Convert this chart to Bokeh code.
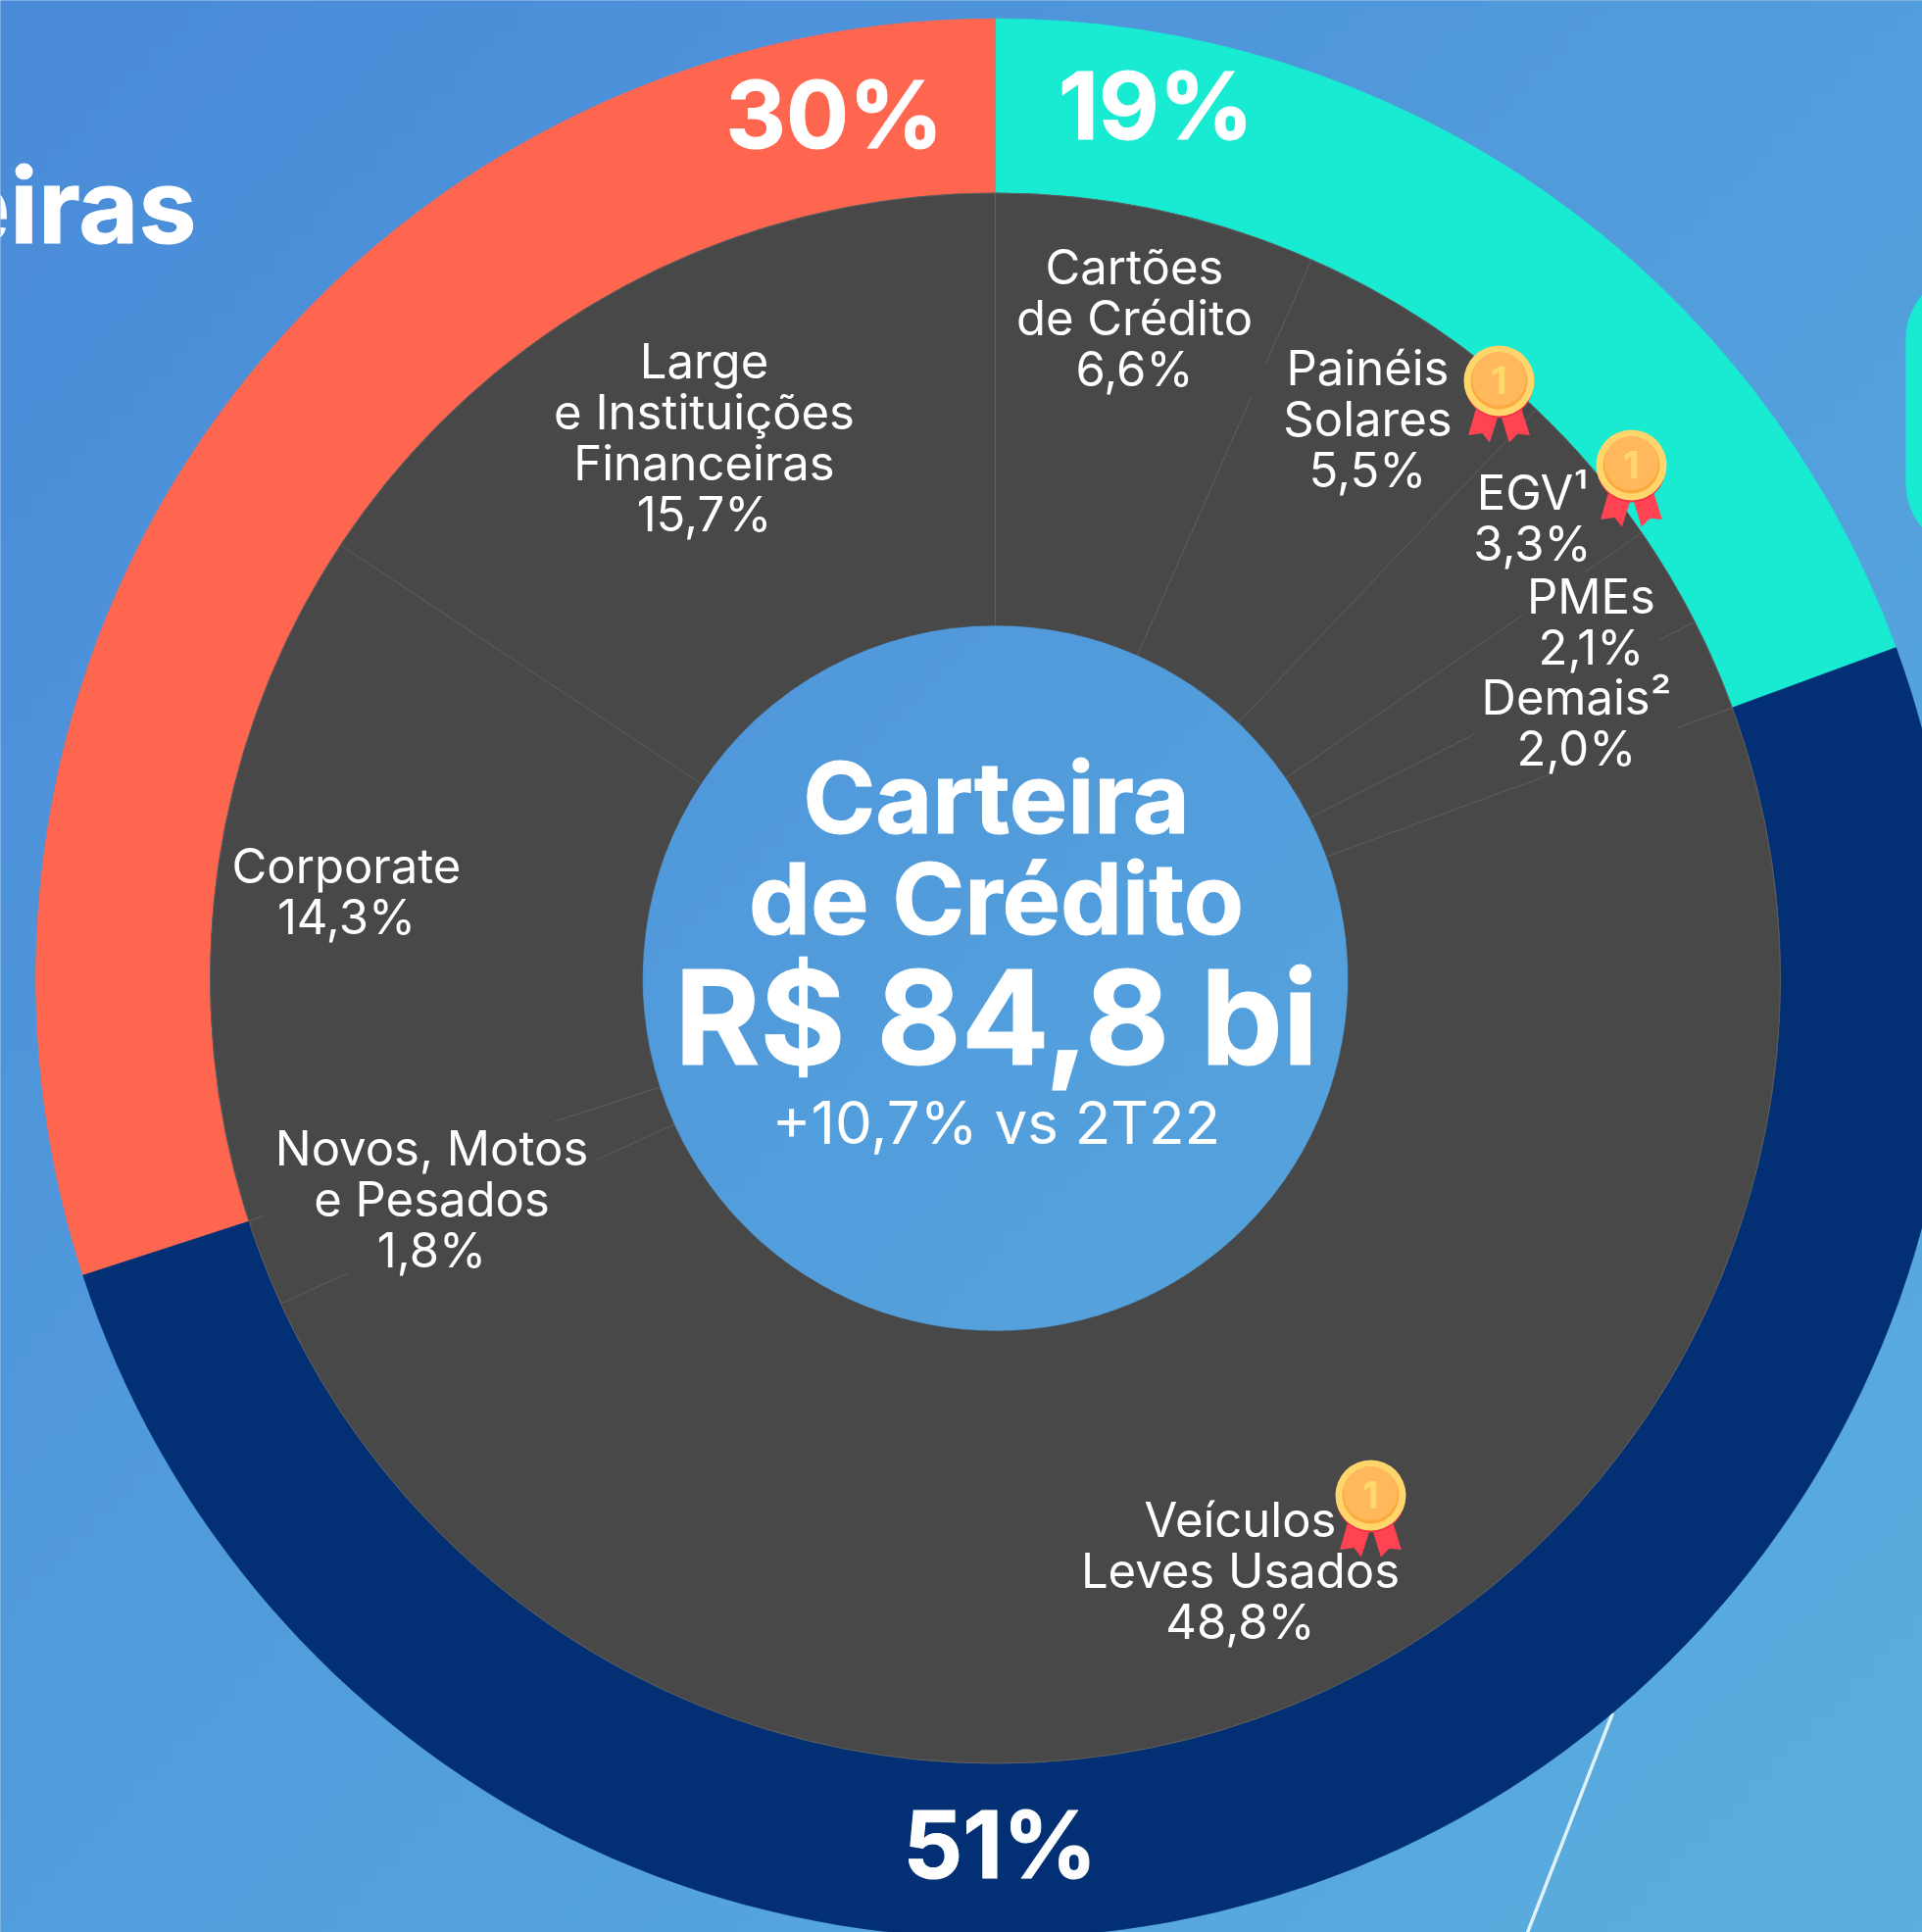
import math
import numpy as np
from bokeh.core.properties import value
from bokeh.embed import file_html
from bokeh.models import Range1d
from bokeh.plotting import figure
from bokeh.resources import INLINE

# ---- data ----
segments = ["Cartões de Crédito", "Painéis Solares", "EGV", "PMEs", "Demais",
            "Veículos Leves Usados", "Novos, Motos e Pesados", "Corporate",
            "Large e Instituições Financeiras"]
shares = [6.6, 5.5, 3.3, 2.1, 1.9, 48.8, 1.8, 14.3, 15.7]
groups = [[0, 1, 2, 3, 4], [5, 6], [7, 8]]
group_labels = ["19%", "51%", "30%"]
group_colors = ["#19EBD2", "#033075", "#FF6650"]
segment_labels = ["Cartões\nde Crédito\n6,6%", "Painéis\nSolares\n5,5%", "EGV¹\n3,3%", "PMEs\n2,1%",
                  "Demais²\n2,0%", "Veículos\nLeves Usados\n48,8%", "Novos, Motos\ne Pesados\n1,8%",
                  "Corporate\n14,3%", "Large\ne Instituições\nFinanceiras\n15,7%"]
label_x = [1157, 1395, 1563, 1623, 1608, 1265, 440, 353, 718]
label_y = [324, 427, 528, 634, 737, 1602, 1223, 909, 446]
group_label_x = [1179, 1020, 851]
group_label_y = [107, 1881, 116]
medal_x = [1529, 1664, 1398]
medal_y = [388, 474, 1525]
# radial stretch of each separator that the reference leaves blank around a label
gap_inner = [0, 650, 0, 653, 548, 601, 447, 473, 0]
gap_outer = [0, 685, 0, 731, 761, 741, 726, 785, 0]

W, H = 1961, 1971
CX, CY = 1015, 997.5
R_OUT, R_MID, R_IN = 979, 801, 360
DARK = "#484848"
SEP = "#5E5E5E"


def Y(v):
    return H - np.asarray(v, dtype=float)


p = figure(width=W, height=H, x_range=Range1d(0, W), y_range=Range1d(0, H),
           x_axis_type=None, y_axis_type=None, toolbar_location=None,
           output_backend="svg", min_border=0, outline_line_color=None,
           background_fill_color="#519CDB", border_fill_color="#519CDB")
p.grid.visible = False

# background gradient
n = 96
gx, gy = np.meshgrid(np.linspace(0, 1, n), np.linspace(0, 1, n))
t = (gx + (1 - gy)) / 2
img = np.zeros((n, n), dtype=np.uint32)
view = img.view(dtype=np.uint8).reshape((n, n, 4))
view[..., 0] = (74 + 17 * t).astype(np.uint8)
view[..., 1] = (139 + 36 * t).astype(np.uint8)
view[..., 2] = (217 + 6 * t).astype(np.uint8)
view[..., 3] = 255
p.image_rgba(image=[img], x=-10, y=-10, dw=W + 20, dh=H + 20)

# backdrop decoration
p.segment([1645], Y([1747]), [1558], Y([1971]), line_color="#DDF2FB", line_width=3.5)
p.circle([2012, 2012], Y([345, 493]), radius=68, fill_color="#19EBD2", line_color=None)
p.quad(left=[1944], right=[2040], top=Y([345]), bottom=Y([493]), fill_color="#19EBD2", line_color=None)

# rings
total = sum(shares)
cum = np.concatenate([[0], np.cumsum(shares)]) / total * 2 * math.pi
g_start = [cum[g[0]] for g in groups]
g_end = [cum[g[-1] + 1] for g in groups]
p.annular_wedge([CX] * 3, Y([CY] * 3), inner_radius=R_MID, outer_radius=R_OUT,
                start_angle=[math.pi / 2 - a for a in g_start], end_angle=[math.pi / 2 - a for a in g_end],
                direction="clock", fill_color=group_colors, line_color=group_colors, line_width=0.5)
p.annular_wedge([CX] * 9, Y([CY] * 9), inner_radius=R_IN, outer_radius=R_MID,
                start_angle=[math.pi / 2 - a for a in cum[:-1]], end_angle=[math.pi / 2 - a for a in cum[1:]],
                direction="clock", fill_color=DARK, line_color=DARK, line_width=0.5)
p.circle([CX], Y([CY]), radius=R_MID, fill_color=None, line_color=SEP, line_width=1)
ang = cum[:-1]
gi = np.array(gap_inner, dtype=float)
go = np.array(gap_outer, dtype=float)
has_gap = go > 0
r0 = np.full(9, float(R_IN))
r1 = np.where(has_gap, gi, float(R_MID))
p.segment(CX + r0 * np.sin(ang), Y(CY - r0 * np.cos(ang)),
          CX + r1 * np.sin(ang), Y(CY - r1 * np.cos(ang)), line_color=SEP, line_width=1)
a2 = ang[has_gap]
r2 = go[has_gap]
p.segment(CX + r2 * np.sin(a2), Y(CY - r2 * np.cos(a2)),
          CX + R_MID * np.sin(a2), Y(CY - R_MID * np.cos(a2)), line_color=SEP, line_width=1)

# segment labels
p.text(label_x, Y(label_y), text=segment_labels, text_font=value("Inter"), text_font_size="49px",
       text_color="white", text_align="center", text_baseline="middle", text_line_height=0.877)

# medals
for mx, my in zip(medal_x, medal_y):
    p.patch(mx + np.array([-23.7, -0.8, -9.6, -17.2, -31.4]), Y(my + np.array([28.7, 35.2, 63, 53.6, 55.5])),
            fill_color="#FF4352", line_color=None)
    p.patch(mx + np.array([1.9, 23, 31.4, 19, 10.3]), Y(my + np.array([35.2, 28.7, 55.5, 54.3, 63])),
            fill_color="#FF4352", line_color=None)
    p.circle([mx], Y([my + 3]), radius=35, fill_color="#EE3344", line_color=None)
    p.circle([mx], Y([my]), radius=36, fill_color="#FFD66B", line_color=None)
    p.circle([mx], Y([my]), radius=29, fill_color="#FDA93F", line_color=None)
    p.circle([mx], Y([my - 2]), radius=27.5, fill_color="#FFB95C", line_color=None)
    p.text([mx], Y([my - 1]), text=["1"], text_font=value("Inter"), text_font_style="bold",
           text_font_size="38px", text_color="#FFD96B", text_align="center", text_baseline="middle")

# ring percentages
p.text(group_label_x, Y(group_label_y), text=group_labels, text_font=value("Inter"), text_font_style="bold",
       text_font_size="95px", text_color="white", text_outline_color="white", text_align="center",
       text_baseline="middle")

# centre text (sizes in pt: 75pt = 100px)
p.text([1016, 1016], Y([813, 916]), text=["Carteira", "de Crédito"], text_font=value("Inter"),
       text_font_style="bold", text_font_size="75pt", text_color="white", text_outline_color="white",
       text_align="center", text_baseline="middle")
p.text([1016], Y([1037]), text=["R$ 84,8 bi"], text_font=value("Inter"), text_font_style="bold",
       text_font_size="99.75pt", text_color="white", text_outline_color="white", text_align="center",
       text_baseline="middle")
p.text([1016], Y([1144]), text=["+10,7% vs 2T22"], text_font=value("Inter"), text_font_size="60px",
       text_color="white", text_align="center", text_baseline="middle")
p.text([200], Y([209]), text=["eiras"], text_font=value("Inter"), text_font_style="bold",
       text_font_size="79pt", text_color="white", text_outline_color="white", text_align="right",
       text_baseline="alphabetic")

open("out.html", "w").write(file_html(p, INLINE))
